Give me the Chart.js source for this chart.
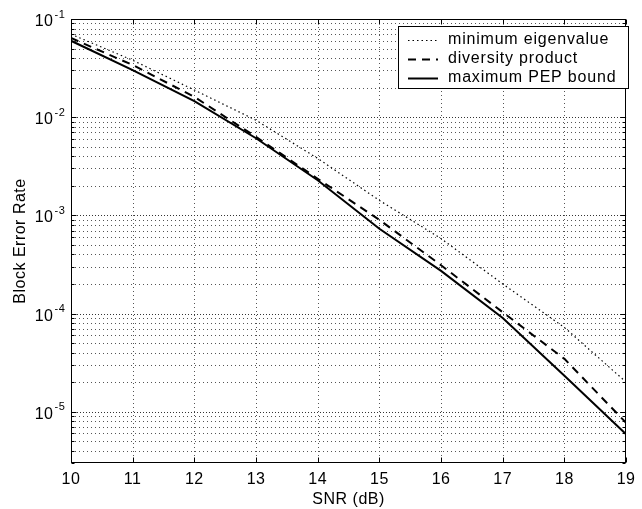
<!DOCTYPE html>
<html>
<head>
<meta charset="utf-8">
<script src="https://cdn.jsdelivr.net/npm/chart.js@4/dist/chart.umd.min.js"></script>
<style>
  html, body { margin: 0; padding: 0; background: #ffffff; }
  #wrap { width: 642px; height: 509px; position: relative; }
</style>
</head>
<body>
<div id="wrap"><canvas id="c" width="642" height="509"></canvas></div>
<script>
// ---- data ----
const snrDb = [10, 11, 12, 13, 14, 15, 16, 17, 18, 19];
const minimumEigenvalue = [0.070, 0.038, 0.0189, 0.0093, 0.0038, 0.00142, 0.00058, 0.00020, 0.000072, 0.000020];
const diversityProduct  = [0.064, 0.034, 0.0161, 0.0063, 0.00236, 0.00090, 0.00031, 0.000103, 0.0000345, 0.0000077];
const maximumPepBound   = [0.060, 0.0302, 0.0146, 0.0061, 0.00228, 0.00073, 0.000272, 0.000090, 0.0000232, 0.0000059];
const seriesNames = ['minimum eigenvalue', 'diversity product', 'maximum PEP bound'];
const xTicks = [10, 11, 12, 13, 14, 15, 16, 17, 18, 19];
const yDecades = [-5, -4, -3, -2, -1];
const xTitle = 'SNR (dB)';
const yTitle = 'Block Error Rate';
const yMin = 3e-6, yMax = 0.1;

const FONT = '"Liberation Sans", Arial, Helvetica, sans-serif';

function pts(arr) { return snrDb.map((x, i) => ({ x: x, y: arr[i] })); }

function allLogTicks() {
  const t = [];
  for (let e = -6; e <= -1; e++) {
    for (let m = 1; m <= 9; m++) {
      const v = m * Math.pow(10, e);
      if (v >= yMin * 0.9999 && v <= yMax * 1.0001) t.push({ value: v, major: m === 1 });
    }
  }
  return t;
}

const framePlugin = {
  id: 'frame',
  beforeInit(chart) { chart.ctx.letterSpacing = '0.5px'; },
  beforeDraw(chart) { chart.ctx.letterSpacing = '0.5px'; },
  beforeDatasetsDraw(chart) {
    const { ctx, chartArea: a } = chart;
    const xs = chart.scales.x, ys = chart.scales.y;
    ctx.save();
    ctx.strokeStyle = '#555';
    ctx.lineWidth = 1;
    // vertical grid
    ctx.setLineDash([1, 3]);
    xTicks.forEach(v => {
      const px = Math.round(xs.getPixelForValue(v)) + 0.5;
      if (px <= a.left + 1 || px >= a.right - 1) return;
      ctx.beginPath(); ctx.moveTo(px, a.top); ctx.lineTo(px, a.bottom); ctx.stroke();
    });
    // horizontal grid (major + minor)
    allLogTicks().forEach(t => {
      const py = Math.round(ys.getPixelForValue(t.value)) + 0.5;
      if (py <= a.top + 1 || py >= a.bottom - 1) return;
      ctx.setLineDash(t.major ? [1, 2] : [1, 3]);
      ctx.strokeStyle = t.major ? '#333' : '#555';
      ctx.beginPath(); ctx.moveTo(a.left, py); ctx.lineTo(a.right, py); ctx.stroke();
    });
    ctx.restore();
  },
  afterDatasetsDraw(chart) {
    const { ctx, chartArea: a } = chart;
    const xs = chart.scales.x, ys = chart.scales.y;
    ctx.save();
    ctx.setLineDash([]);
    ctx.strokeStyle = '#000';
    ctx.lineWidth = 1;
    const L = Math.round(a.left) + 0.5, R = Math.round(a.right) - 0.5;
    const T = Math.round(a.top) + 0.5, B = Math.round(a.bottom) - 0.5;
    ctx.strokeRect(L, T, R - L, B - T);
    // tick marks inside
    ctx.beginPath();
    xTicks.forEach(v => {
      const px = Math.round(xs.getPixelForValue(v)) + 0.5;
      ctx.moveTo(px, B); ctx.lineTo(px, B - 5);
      ctx.moveTo(px, T); ctx.lineTo(px, T + 5);
    });
    allLogTicks().forEach(t => {
      const py = Math.round(ys.getPixelForValue(t.value)) + 0.5;
      const len = t.major ? 5 : 3;
      ctx.moveTo(L, py); ctx.lineTo(L + len, py);
      ctx.moveTo(R, py); ctx.lineTo(R - len, py);
    });
    ctx.stroke();

    // y tick labels with superscript exponents
    ctx.fillStyle = '#000';
    ctx.letterSpacing = '0.5px';
    yDecades.forEach(e => {
      const py = ys.getPixelForValue(Math.pow(10, e));
      ctx.font = '16px ' + FONT;
      ctx.textAlign = 'right';
      ctx.textBaseline = 'alphabetic';
      ctx.fillText('10', 53.5, py + 7);
      ctx.font = '11px ' + FONT;
      ctx.textAlign = 'left';
      ctx.fillText('-' + Math.abs(e), 54.5, py - 1.5);
    });

    // legend box
    const bx = 398.5, by = 26.5, bw = 230, bh = 62;
    ctx.fillStyle = '#fff';
    ctx.fillRect(bx, by, bw, bh);
    ctx.strokeStyle = '#000';
    ctx.lineWidth = 1;
    ctx.strokeRect(bx, by, bw, bh);
    const lineRows = [40.5, 59.5, 78.5];
    const textRows = [39.5, 58.5, 78];
    chart.data.datasets.forEach((ds, i) => {
      ctx.save();
      ctx.strokeStyle = '#000';
      ctx.lineWidth = ds.borderWidth;
      ctx.setLineDash(ds.borderDash || []);
      ctx.beginPath(); ctx.moveTo(408, lineRows[i]); ctx.lineTo(438, lineRows[i]); ctx.stroke();
      ctx.restore();
      ctx.fillStyle = '#000';
      ctx.font = '16px ' + FONT;
      ctx.letterSpacing = '0.8px';
      ctx.textAlign = 'left';
      ctx.textBaseline = 'middle';
      ctx.fillText(ds.label, 448, textRows[i]);
    });
    ctx.restore();
  }
};

new Chart(document.getElementById('c'), {
  type: 'line',
  data: {
    datasets: [
      { label: seriesNames[0], data: pts(minimumEigenvalue), borderColor: '#000', borderWidth: 1.2, borderDash: [1.5, 3], pointRadius: 0, fill: false, tension: 0 },
      { label: seriesNames[1], data: pts(diversityProduct),  borderColor: '#000', borderWidth: 2, borderDash: [8, 6], pointRadius: 0, fill: false, tension: 0 },
      { label: seriesNames[2], data: pts(maximumPepBound),   borderColor: '#000', borderWidth: 2, pointRadius: 0, fill: false, tension: 0 }
    ]
  },
  options: {
    responsive: false,
    animation: false,
    devicePixelRatio: 1,
    layout: { padding: { top: 19, right: 8, left: 0, bottom: 0 } },
    plugins: { legend: { display: false }, tooltip: { enabled: false } },
    scales: {
      x: {
        type: 'linear', min: 10, max: 19,
        afterBuildTicks(scale) { scale.ticks = xTicks.map(v => ({ value: v })); },
        afterFit(scale) { scale.height = 46; },
        grid: { display: false, drawTicks: false },
        border: { display: false },
        ticks: { color: '#000', font: { family: FONT, size: 16 }, padding: 7, maxRotation: 0, autoSkip: false },
        title: { display: true, text: xTitle, color: '#000', font: { family: FONT, size: 16 }, padding: { top: 0, bottom: 0 } }
      },
      y: {
        type: 'logarithmic', min: yMin, max: yMax,
        afterBuildTicks(scale) { scale.ticks = allLogTicks().map(t => ({ value: t.value, major: t.major })); },
        afterFit(scale) { scale.width = 71; },
        grid: { display: false, drawTicks: false },
        border: { display: false },
        ticks: { callback: () => '', autoSkip: false },
        title: { display: true, text: yTitle, color: '#000', font: { family: FONT, size: 16 }, padding: { top: 11, bottom: 0 } }
      }
    }
  },
  plugins: [framePlugin]
});
</script>
</body>
</html>
